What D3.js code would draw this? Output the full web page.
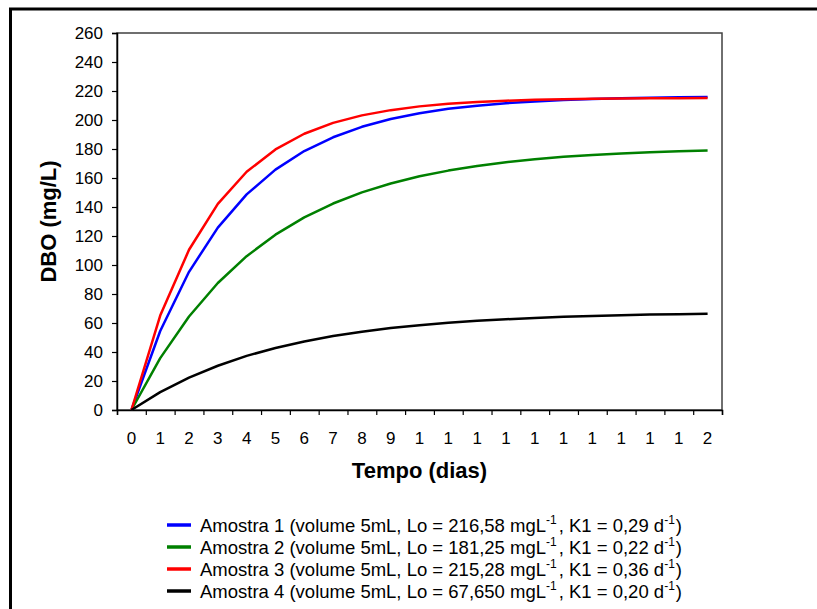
<!DOCTYPE html>
<html>
<head>
<meta charset="utf-8">
<script src="https://cdn.jsdelivr.net/npm/d3@7"></script>
<style>
  html, body { margin: 0; padding: 0; background: #fff; }
  svg { display: block; font-family: "Liberation Sans", Arial, sans-serif; }
</style>
</head>
<body>
<svg id="chart" width="817" height="609"></svg>
<script>
// ---------- data ----------
const categories = [0,1,2,3,4,5,6,7,8,9,10,11,12,13,14,15,16,17,18,19,20];
const xTickLabels = ["0","1","2","3","4","5","6","7","8","9","1","1","1","1","1","1","1","1","1","1","2"];
const yTicks = [0,20,40,60,80,100,120,140,160,180,200,220,240,260];

const amostra1 = [0,54.5,95.3,125.8,148.7,165.8,178.6,188.1,195.3,200.7,204.7,207.7,209.9,211.6,212.8,213.8,214.5,215.0,215.4,215.7,215.9];
const amostra2 = [0,35.8,64.5,87.6,106.1,120.9,132.8,142.4,150.1,156.2,161.2,165.1,168.3,170.9,172.9,174.6,175.9,176.9,177.8,178.5,179.0];
const amostra3 = [0,65.1,110.5,142.2,164.3,179.7,190.5,198.0,203.2,206.8,209.4,211.2,212.4,213.3,213.9,214.3,214.6,214.8,215.0,215.0,215.1];
const amostra4 = [0,12.3,22.3,30.5,37.3,42.8,47.3,51.0,54.0,56.5,58.5,60.2,61.5,62.6,63.5,64.3,64.9,65.4,65.8,66.1,66.4];

const seriesNames = ["Amostra 1","Amostra 2","Amostra 3","Amostra 4"];
const seriesColors = ["#0000ff","#008000","#ff0000","#000000"];
const legendParts = [
  ["Amostra 1 (volume 5mL, Lo = 216,58 mgL", ", K1 = 0,29 d", ")"],
  ["Amostra 2 (volume 5mL, Lo = 181,25 mgL", ", K1 = 0,22 d", ")"],
  ["Amostra 3 (volume 5mL, Lo = 215,28 mgL", ", K1 = 0,36 d", ")"],
  ["Amostra 4 (volume 5mL, Lo = 67,650 mgL", ", K1 = 0,20 d", ")"]
];
const allSeries = [amostra1, amostra2, amostra3, amostra4];

// ---------- layout ----------
const svg = d3.select("#chart");
const pLeft = 117, pRight = 722, pTop = 33, pBottom = 410;

const x = d3.scaleBand().domain(categories).range([pLeft, pRight]).padding(0);
const y = d3.scaleLinear().domain([0, 260]).range([pBottom, pTop]);

// outer frame
svg.append("rect").attr("x", 10.5).attr("y", 9).attr("width", 900).attr("height", 700)
  .attr("fill", "none").attr("stroke", "#000").attr("stroke-width", 3);

// plot area border
svg.append("rect").attr("x", pLeft).attr("y", pTop).attr("width", pRight - pLeft).attr("height", pBottom - pTop)
  .attr("fill", "#fff").attr("stroke", "#404040").attr("stroke-width", 1.5);

// y axis
const yAxis = d3.axisLeft(y).tickValues(yTicks).tickSize(5).tickPadding(9).tickFormat(d3.format("d"));
const gy = svg.append("g").attr("transform", `translate(${pLeft},0)`).call(yAxis);
gy.select(".domain").attr("stroke", "#000").attr("stroke-width", 1.5);
gy.selectAll(".tick line").attr("stroke", "#000").attr("stroke-width", 1.2);
gy.selectAll(".tick text").attr("font-size", 17).attr("fill", "#000")
  .attr("font-family", "'Liberation Sans', Arial, sans-serif");

// x axis: ticks at category boundaries, labels at centers
const boundaries = categories.map(c => x(c)).concat([x(categories[categories.length - 1]) + x.bandwidth()]);
const xAxisScale = d3.scaleLinear().domain([pLeft, pRight]).range([pLeft, pRight]);
const xAxis = d3.axisBottom(xAxisScale).tickValues(boundaries).tickSize(5).tickFormat("");
const gx = svg.append("g").attr("transform", `translate(0,${pBottom})`).call(xAxis);
gx.select(".domain").attr("stroke", "#000").attr("stroke-width", 1.5);
gx.selectAll(".tick line").attr("stroke", "#000").attr("stroke-width", 1.2);

svg.append("g").selectAll("text").data(categories).join("text")
  .attr("x", d => x(d) + x.bandwidth() / 2)
  .attr("y", 444)
  .attr("text-anchor", "middle")
  .attr("font-size", 17)
  .attr("fill", "#000")
  .text((d, i) => xTickLabels[i]);

// axis titles
svg.append("text").attr("x", (pLeft + pRight) / 2).attr("y", 478)
  .attr("text-anchor", "middle").attr("font-size", 22).attr("font-weight", "bold")
  .text("Tempo (dias)");
svg.append("text").attr("transform", `translate(56,${(pTop + pBottom) / 2}) rotate(-90)`)
  .attr("text-anchor", "middle").attr("font-size", 22).attr("font-weight", "bold")
  .text("DBO (mg/L)");

// lines
const line = d3.line()
  .x((d, i) => x(categories[i]) + x.bandwidth() / 2)
  .y(d => y(d));
svg.append("g").selectAll("path").data(allSeries).join("path")
  .attr("d", d => line(d))
  .attr("fill", "none")
  .attr("stroke", (d, i) => seriesColors[i])
  .attr("stroke-width", 2.5)
  .attr("stroke-linejoin", "round");

// legend
const legY0 = 525, legDy = 22;
const leg = svg.append("g");
legendParts.forEach((parts, i) => {
  const yy = legY0 + i * legDy;
  leg.append("line").attr("x1", 167).attr("x2", 191).attr("y1", yy).attr("y2", yy)
    .attr("stroke", seriesColors[i]).attr("stroke-width", 3.5);
  const t = leg.append("text").attr("x", 200).attr("y", yy + 6.5).attr("font-size", 18.5).attr("fill", "#000");
  t.append("tspan").text(parts[0]);
  t.append("tspan").attr("font-size", 12).attr("dy", -8).text("-1");
  t.append("tspan").attr("dy", 8).attr("dx", 2).text(parts[1]);
  t.append("tspan").attr("font-size", 12).attr("dy", -8).text("-1");
  t.append("tspan").attr("dy", 8).attr("dx", 1).text(parts[2]);
});
</script>
</body>
</html>
